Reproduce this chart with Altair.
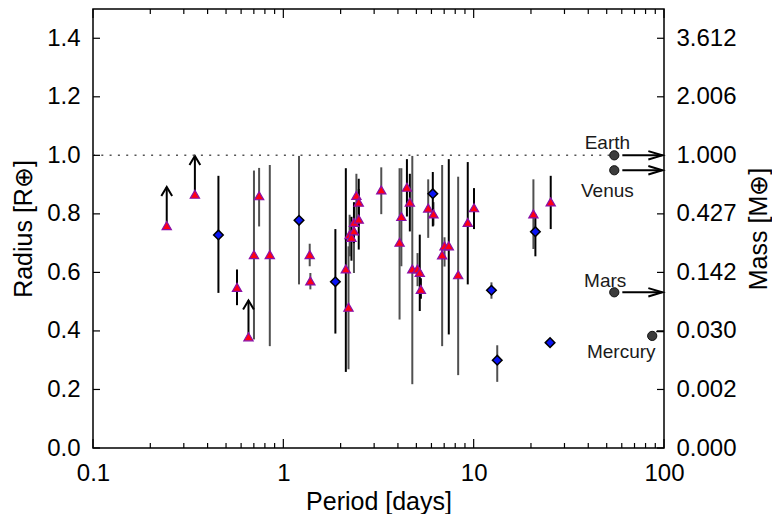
import altair as alt
import pandas as pd

# ---------------- data ----------------
# triangles (red) with error bars
tri_period = [0.571, 0.701, 0.746, 0.849, 1.376, 1.387, 2.13, 2.20, 2.23, 2.28, 2.35, 2.35,
              2.49, 2.42, 2.49, 3.27, 4.08, 4.17, 4.46, 4.62, 4.76, 5.07, 5.21, 5.28,
              5.77, 6.15, 6.83, 7.03, 7.40, 8.29, 9.31, 10.04, 20.6, 25.4]
tri_radius = [0.549, 0.661, 0.862, 0.661, 0.661, 0.571, 0.612, 0.481, 0.729, 0.720, 0.742, 0.771,
              0.782, 0.863, 0.840, 0.882, 0.703, 0.791, 0.891, 0.840, 0.612, 0.612, 0.600, 0.542,
              0.820, 0.800, 0.660, 0.691, 0.691, 0.592, 0.771, 0.821, 0.800, 0.841]
tri_lo = [0.488, 0.371, 0.757, 0.348, 0.621, 0.542, 0.260, 0.269, 0.655, 0.640, 0.598, 0.700,
          0.678, 0.780, 0.760, 0.799, 0.439, 0.621, 0.791, 0.740, 0.218, 0.553, 0.468, 0.510,
          0.718, 0.760, 0.348, 0.620, 0.388, 0.249, 0.559, 0.748, 0.680, 0.748]
tri_hi = [0.610, 0.948, 0.957, 0.967, 0.698, 0.598, 0.956, 0.689, 0.797, 0.790, 0.787, 0.840,
          0.885, 0.937, 0.920, 0.959, 0.956, 0.956, 0.987, 0.937, 0.998, 0.666, 0.729, 0.580,
          0.918, 0.840, 0.967, 0.720, 0.987, 0.927, 0.977, 0.888, 0.918, 0.930]
tri_errcol = ["k", "g", "g", "g", "g", "g", "k", "g", "g", "k", "g", "k",
              "k", "g", "k", "g", "g", "g", "k", "k", "g", "g", "k", "k",
              "g", "g", "g", "g", "k", "g", "k", "k", "g", "k"]

# triangles with lower limits (upward arrows)
lim_period = [0.244, 0.343, 0.656]
lim_radius = [0.760, 0.867, 0.380]
lim_top = [0.892, 0.998, 0.504]

# diamonds (blue)
dia_period = [0.456, 1.209, 1.877, 6.10, 12.4, 13.3, 21.1, 25.2]
dia_radius = [0.728, 0.778, 0.568, 0.869, 0.539, 0.300, 0.739, 0.360]
dia_lo = [0.530, 0.559, 0.391, 0.757, 0.510, 0.226, 0.655, None]
dia_hi = [0.930, 0.998, 0.748, 0.943, 0.566, 0.351, 0.800, None]
dia_errcol = ["k", "g", "k", "k", "g", "g", "k", "k"]

# solar system planets
planet_names = ["Earth", "Venus", "Mars", "Mercury"]
planet_period = [54.8, 54.8, 54.8, 86.7]
planet_radius = [1.000, 0.949, 0.532, 0.383]
planet_label_period = [50.4, 50.4, 49.1, 59.6]
planet_label_radius = [1.042, 0.879, 0.569, 0.327]
arrow_names = ["Earth", "Venus", "Mars"]
arrow_start = [60.4, 60.4, 60.4]
arrow_end = [98.0, 98.0, 98.0]
arrow_radius = [1.000, 0.949, 0.532]

# axes ticks / labels
x_major = [0.1, 1, 10, 100]
x_minor = [0.2, 0.3, 0.4, 0.5, 0.6, 0.7, 0.8, 0.9, 2, 3, 4, 5, 6, 7, 8, 9,
           20, 30, 40, 50, 60, 70, 80, 90]
y_ticks = [0.0, 0.2, 0.4, 0.6, 0.8, 1.0, 1.2, 1.4]
mass_labels = ["0.000", "0.002", "0.030", "0.142", "0.427", "1.000", "2.006", "3.612"]

# ---------------- chart ----------------
W, H = 571, 439
FONT = "Liberation Sans"
xs = alt.Scale(type="log", domain=[0.1, 100], nice=False)
ys = alt.Scale(domain=[0, 1.5], nice=False, zero=False)

xaxis = alt.Axis(values=x_major, format="~g", title="Period [days]", ticks=False, tickSize=0,
                 domain=False, grid=False, labelFontSize=24, labelFont=FONT, labelColor="black",
                 labelPadding=13, labelFlush=False, labelOverlap=False,
                 titleFontSize=25, titleFont=FONT, titleFontWeight="normal", titleColor="black",
                 titlePadding=4)
yaxis = alt.Axis(values=y_ticks, format=".1f", title="Radius [R⊕]", ticks=False, tickSize=0,
                 domain=False, grid=False, labelFontSize=24, labelFont=FONT, labelColor="black",
                 labelPadding=13, labelOverlap=False,
                 titleFontSize=25, titleFont=FONT, titleFontWeight="normal", titleColor="black",
                 titlePadding=10)


def X(f):
    return alt.X(f, type="quantitative", scale=xs, axis=xaxis)


def Y(f):
    return alt.Y(f, type="quantitative", scale=ys, axis=yaxis)


tri = pd.DataFrame({"P": tri_period, "R": tri_radius, "lo": tri_lo, "hi": tri_hi, "c": tri_errcol})
dia = pd.DataFrame({"P": dia_period, "R": dia_radius, "lo": dia_lo, "hi": dia_hi, "c": dia_errcol})
err = pd.concat([tri, dia.dropna()], ignore_index=True)
err["col"] = err["c"].map({"k": "#000000", "g": "#505050"})
lim = pd.DataFrame({"P": lim_period, "R": lim_radius, "top": lim_top})
pl = pd.DataFrame({"name": planet_names, "P": planet_period, "R": planet_radius,
                   "lx": planet_label_period, "ly": planet_label_radius})
arr = pd.DataFrame({"name": arrow_names, "x1": arrow_start, "x2": arrow_end, "R": arrow_radius})
dot = pd.DataFrame({"x1": [0.1], "x2": [planet_period[0]], "R": [planet_radius[0]]})
merc = pd.DataFrame({"x1": [91.0], "x2": [100.0], "R": [0.398]})

errbars = alt.Chart(err).mark_rule(strokeWidth=2).encode(
    x=X("P"), y=Y("lo"), y2="hi:Q", color=alt.Color("col:N", scale=None))

lim_shaft = alt.Chart(lim).mark_rule(strokeWidth=2, color="black").encode(
    x=X("P"), y=Y("R"), y2="top:Q")
lim_head = alt.Chart(lim).mark_point(shape="M-0.6,1L0,0L0.6,1", size=324, filled=False,
                                     stroke="black", strokeWidth=2, opacity=1).encode(
    x=X("P"), y=Y("top"))

dotted = alt.Chart(dot).mark_rule(strokeDash=[2, 6.3], strokeWidth=1.5, color="#555555").encode(
    x=X("x1"), x2="x2:Q", y=Y("R"))

pl_shaft = alt.Chart(arr).mark_rule(strokeWidth=2, color="black").encode(
    x=X("x1"), x2="x2:Q", y=Y("R"))
pl_head = alt.Chart(arr).mark_point(shape="M-1,-0.3L0,0L-1,0.3", size=784, filled=False,
                                    stroke="black", strokeWidth=2, opacity=1).encode(
    x=X("x2"), y=Y("R"))
merc_line = alt.Chart(merc).mark_rule(strokeWidth=1.5, color="black").encode(
    x=X("x1"), x2="x2:Q", y=Y("R"))

tri_style = dict(shape="triangle-up", size=86, filled=True, fill="#ff0014",
                 stroke="#8a10a8", strokeWidth=1.2, opacity=1)
tri_pts = alt.Chart(tri).mark_point(**tri_style).encode(x=X("P"), y=Y("R"))
lim_pts = alt.Chart(lim).mark_point(**tri_style).encode(x=X("P"), y=Y("R"))
dia_pts = alt.Chart(dia).mark_point(shape="diamond", size=92, filled=True, fill="#0a14f5",
                                    stroke="black", strokeWidth=1.5, opacity=1).encode(
    x=X("P"), y=Y("R"))

pl_pts = alt.Chart(pl).mark_point(shape="circle", size=85, filled=True, fill="#3c3c3c",
                                  stroke="#111111", strokeWidth=1, opacity=1).encode(
    x=X("P"), y=Y("R"))
pl_txt = alt.Chart(pl).mark_text(fontSize=19, font=FONT, color="#1a1a1a").encode(
    x=X("lx"), y=Y("ly"), text="name:N")

# inward ticks
xmaj = pd.DataFrame({"v": x_major})
xmin = pd.DataFrame({"v": x_minor})
yt = pd.DataFrame({"v": y_ticks})
tk = dict(strokeWidth=1.2, color="black")
t_b_maj = alt.Chart(xmaj).mark_rule(**tk).encode(x=X("v"), y=alt.value(H), y2=alt.value(H - 9))
t_b_min = alt.Chart(xmin).mark_rule(**tk).encode(x=X("v"), y=alt.value(H), y2=alt.value(H - 5))
t_t_maj = alt.Chart(xmaj).mark_rule(**tk).encode(x=X("v"), y=alt.value(0), y2=alt.value(9))
t_t_min = alt.Chart(xmin).mark_rule(**tk).encode(x=X("v"), y=alt.value(0), y2=alt.value(5))
t_l = alt.Chart(yt).mark_rule(**tk).encode(y=Y("v"), x=alt.value(0), x2=alt.value(7))
t_r = alt.Chart(yt).mark_rule(**tk).encode(y=Y("v"), x=alt.value(W), x2=alt.value(W - 7))

main = alt.layer(errbars, lim_shaft, lim_head, dotted, pl_shaft, pl_head, merc_line,
                 tri_pts, lim_pts, dia_pts, pl_pts, pl_txt,
                 t_b_maj, t_b_min, t_t_maj, t_t_min, t_l, t_r)

label_expr = "[" + ",".join("'%s'" % s for s in mass_labels) + "][round(datum.value / 0.2)]"
raxis = alt.Axis(orient="right", values=y_ticks, labelExpr=label_expr, title="Mass [M⊕]",
                 ticks=False, tickSize=0, domain=False, grid=False,
                 labelFontSize=24, labelFont=FONT, labelColor="black", labelPadding=12,
                 labelOverlap=False, titleFontSize=25, titleFont=FONT, titleFontWeight="normal",
                 titleColor="black", titleAngle=270, titleBaseline="top", titlePadding=10)
right = alt.Chart(yt).mark_rule(opacity=0).encode(
    y=alt.Y("v:Q", scale=alt.Scale(domain=[0, 1.5], nice=False, zero=False), axis=raxis))

chart = alt.layer(main, right).resolve_scale(y="independent").properties(
    width=W, height=H,
    background="white",
    autosize=alt.AutoSizeParams(type="none"),
    padding={"left": 85, "top": 1, "right": 108, "bottom": 66},
).configure_view(stroke="black", strokeWidth=1.5)

chart.save("out.html", embed_options={"renderer": "svg", "actions": False})
